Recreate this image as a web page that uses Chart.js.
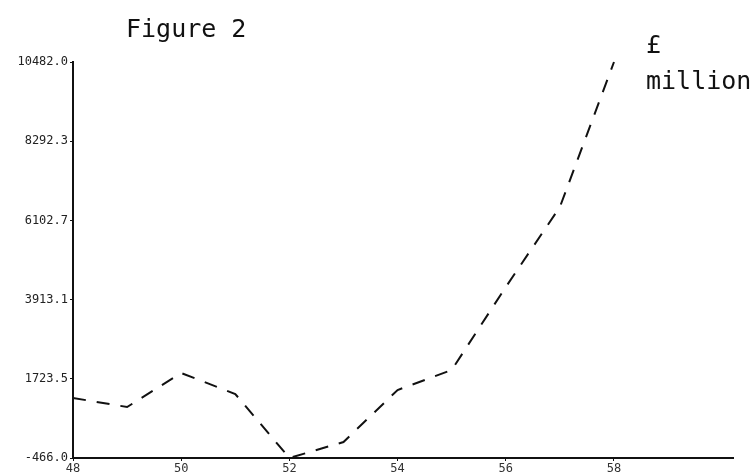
<!DOCTYPE html>
<html>
<head>
<meta charset="utf-8">
<script src="https://cdn.jsdelivr.net/npm/chart.js@4/dist/chart.umd.min.js"></script>
<style>
  body { margin: 0; background: #fff; }
  #wrap { width: 753px; height: 476px; }
</style>
</head>
<body>
<div id="wrap"><canvas id="fig2"></canvas></div>
<script>
//*Data
const years = [48, 49, 50, 51, 52, 53, 54, 55, 56, 57, 58]
const values = [1193, 944, 1884, 1303, -466, -24, 1414, 1967, 4261, 6473, 10482]
const xTicks = [48, 50, 52, 54, 56, 58]
const yTicks = [-466.0, 1723.5, 3913.1, 6102.7, 8292.3, 10482.0]

//*Texts drawn over the chart
const notes = {
  id: 'notes',
  afterDraw(chart) {
    const c = chart.ctx
    c.save()
    c.fillStyle = '#111'
    c.font = '25px "DejaVu Sans Mono"'
    c.textBaseline = 'alphabetic'
    c.fillText('Figure 2', 126, 37)
    c.fillText('£', 646, 53)
    c.fillText('million', 646, 89)
    c.restore()
  }
}

const points = years.map((y, i) => ({ x: y, y: values[i] }))

new Chart(document.getElementById('fig2'), {
  type: 'line',
  data: {
    datasets: [{
      data: points,
      borderColor: '#111',
      borderWidth: 2,
      borderDash: [13, 11],
      pointRadius: 0,
      tension: 0,
      fill: false,
      clip: false,
    }],
  },
  options: {
    responsive: true,
    maintainAspectRatio: false,
    animation: false,
    layout: { padding: { top: 62, right: 20, left: 0, bottom: 0 } },
    plugins: { legend: { display: false }, tooltip: { enabled: false } },
    scales: {
      x: {
        type: 'linear',
        min: 48,
        max: 60.2,
        afterBuildTicks: (s) => { s.ticks = xTicks.map(v => ({ value: v })) },
        afterFit: (s) => { s.height = 18 },
        border: { color: '#111', width: 2 },
        grid: { drawOnChartArea: false, tickLength: 3, color: '#111' },
        ticks: {
          color: '#333',
          font: { family: 'DejaVu Sans Mono', size: 12 },
          padding: 1,
          maxRotation: 0,
          callback: (v) => String(v),
        },
      },
      y: {
        min: -466,
        max: 10482,
        afterBuildTicks: (s) => { s.ticks = yTicks.map(v => ({ value: v })) },
        afterFit: (s) => { s.width = 73 },
        border: { color: '#111', width: 2 },
        grid: { drawOnChartArea: false, tickLength: 3, color: '#111' },
        ticks: {
          color: '#222',
          font: { family: 'DejaVu Sans Mono', size: 12 },
          padding: 2,
          callback: (v) => v.toFixed(1),
        },
      },
    },
  },
  plugins: [notes],
})
</script>
</body>
</html>
